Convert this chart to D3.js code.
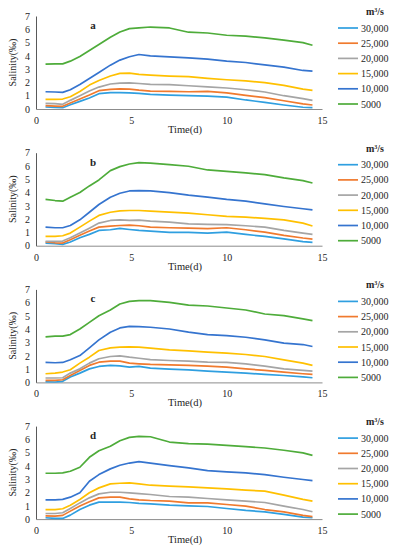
<!DOCTYPE html>
<html>
<head>
<meta charset="utf-8">
<script src="https://cdn.jsdelivr.net/npm/d3@7"></script>
<style>
  body { margin: 0; background: #fff; }
  text { font-family: "Liberation Serif", "DejaVu Serif", serif; fill: #262626; }
</style>
</head>
<body>
<div id="wrapper"></div>
<script>
// sample days shared by every series
const days = [0.5, 1, 1.4, 1.8, 2.3, 2.8, 3.3, 3.9, 4.4, 4.9, 5.4, 6, 7, 8, 9, 10, 11, 12, 13, 14, 14.5]

const flows = ["30,000", "25,000", "20,000", "15,000", "10,000", "5000"]
const colors = ["#2f9fe0", "#f07a2e", "#a5a5a5", "#ffc000", "#3574cf", "#4eac3a"]
const panelLabels = ["a", "b", "c", "d"]
const xTicks = [0, 5, 10, 15]
const yTicks = [0, 1, 2, 3, 4, 5, 6, 7]

// salinity per flow, order follows flows
const panelA = [
  [0.15, 0.12, 0.1, 0.32, 0.57, 0.83, 1.15, 1.23, 1.23, 1.22, 1.18, 1.1, 1.05, 1.0, 0.97, 0.9, 0.68, 0.5, 0.3, 0.13, 0.1],
  [0.25, 0.22, 0.2, 0.45, 0.75, 1.05, 1.38, 1.48, 1.52, 1.5, 1.42, 1.35, 1.33, 1.3, 1.32, 1.22, 1.02, 0.85, 0.62, 0.38, 0.3],
  [0.43, 0.4, 0.35, 0.65, 1.0, 1.35, 1.65, 1.88, 1.95, 1.97, 1.92, 1.85, 1.83, 1.75, 1.67, 1.58, 1.45, 1.28, 1.0, 0.78, 0.65],
  [0.73, 0.73, 0.75, 0.92, 1.32, 1.8, 2.15, 2.48, 2.68, 2.7, 2.6, 2.55, 2.48, 2.43, 2.3, 2.2, 2.12, 1.98, 1.78, 1.5, 1.4],
  [1.3, 1.28, 1.25, 1.45, 1.85, 2.3, 2.75, 3.3, 3.68, 3.93, 4.1, 4.0, 3.93, 3.85, 3.75, 3.6, 3.5, 3.32, 3.15, 2.9, 2.85],
  [3.38, 3.4, 3.4, 3.6, 3.95, 4.4, 4.85, 5.4, 5.8, 6.05, 6.1, 6.17, 6.1, 5.78, 5.72, 5.55, 5.48, 5.35, 5.18, 5.0, 4.8],
]
const panelB = [
  [0.2, 0.15, 0.1, 0.28, 0.6, 0.85, 1.15, 1.2, 1.3, 1.22, 1.15, 1.1, 1.0, 1.0, 0.95, 1.02, 0.85, 0.7, 0.52, 0.3, 0.25],
  [0.28, 0.22, 0.2, 0.45, 0.78, 1.1, 1.4, 1.48, 1.52, 1.55, 1.5, 1.4, 1.35, 1.33, 1.28, 1.35, 1.2, 1.02, 0.78, 0.58, 0.5],
  [0.33, 0.33, 0.35, 0.6, 0.95, 1.32, 1.7, 1.9, 1.95, 1.9, 1.92, 1.85, 1.78, 1.65, 1.6, 1.58, 1.5, 1.4, 1.15, 0.95, 0.85],
  [0.7, 0.7, 0.75, 0.95, 1.4, 1.85, 2.28, 2.52, 2.62, 2.65, 2.65, 2.6, 2.52, 2.45, 2.33, 2.2, 2.15, 2.05, 1.95, 1.7, 1.48],
  [1.4, 1.35, 1.35, 1.52, 1.95, 2.52, 3.1, 3.65, 3.95, 4.12, 4.15, 4.12, 4.0, 3.8, 3.65, 3.48, 3.35, 3.15, 2.95, 2.78, 2.7],
  [3.48, 3.4, 3.35, 3.65, 4.0, 4.5, 4.95, 5.65, 5.95, 6.15, 6.25, 6.22, 6.1, 5.98, 5.7, 5.6, 5.48, 5.35, 5.1, 4.9, 4.72],
]
const panelC = [
  [0.05, 0.03, 0.08, 0.4, 0.7, 1.02, 1.2, 1.28, 1.25, 1.15, 1.2, 1.08, 1.0, 0.95, 0.85, 0.78, 0.7, 0.6, 0.52, 0.42, 0.35],
  [0.15, 0.15, 0.2, 0.52, 0.9, 1.28, 1.52, 1.6, 1.6, 1.45, 1.4, 1.35, 1.32, 1.28, 1.22, 1.15, 1.02, 0.9, 0.78, 0.65, 0.6],
  [0.33, 0.33, 0.35, 0.7, 1.02, 1.45, 1.78, 1.95, 2.0, 1.9, 1.82, 1.72, 1.65, 1.6, 1.52, 1.5, 1.4, 1.22, 1.02, 0.9, 0.85],
  [0.65, 0.7, 0.78, 0.95, 1.45, 1.9, 2.4, 2.6, 2.65, 2.68, 2.65, 2.58, 2.45, 2.38, 2.28, 2.2, 2.1, 1.95, 1.7, 1.45, 1.28],
  [1.5, 1.48, 1.5, 1.7, 2.02, 2.6, 3.2, 3.78, 4.1, 4.22, 4.2, 4.15, 4.02, 3.78, 3.6, 3.52, 3.4, 3.2, 2.95, 2.85, 2.7],
  [3.42, 3.48, 3.48, 3.6, 4.02, 4.52, 5.02, 5.45, 5.9, 6.1, 6.15, 6.15, 6.02, 5.82, 5.75, 5.6, 5.45, 5.15, 5.02, 4.78, 4.65],
]
const panelD = [
  [0.1, 0.05, 0.05, 0.3, 0.72, 1.05, 1.28, 1.28, 1.28, 1.25, 1.18, 1.15, 1.05, 1.0, 0.95, 0.8, 0.65, 0.55, 0.35, 0.15, 0.1],
  [0.25, 0.22, 0.28, 0.6, 0.98, 1.3, 1.6, 1.65, 1.65, 1.52, 1.45, 1.4, 1.35, 1.22, 1.22, 1.1, 0.98, 0.72, 0.55, 0.28, 0.18],
  [0.42, 0.42, 0.48, 0.8, 1.22, 1.6, 1.9, 2.02, 2.02, 1.98, 1.92, 1.85, 1.7, 1.65, 1.55, 1.45, 1.35, 1.25, 0.98, 0.72, 0.55],
  [0.72, 0.72, 0.78, 1.05, 1.48, 1.98, 2.35, 2.65, 2.7, 2.72, 2.65, 2.55, 2.48, 2.42, 2.35, 2.28, 2.18, 2.1, 1.8, 1.48, 1.35],
  [1.45, 1.45, 1.48, 1.65, 1.98, 2.85, 3.35, 3.78, 4.05, 4.22, 4.32, 4.22, 4.02, 3.85, 3.65, 3.55, 3.48, 3.35, 3.15, 2.98, 2.9],
  [3.45, 3.45, 3.48, 3.6, 3.9, 4.65, 5.15, 5.48, 5.9, 6.15, 6.22, 6.2, 5.8, 5.68, 5.65, 5.55, 5.45, 5.35, 5.18, 4.98, 4.8],
]
const panels = [panelA, panelB, panelC, panelD]

const dimensions = {
  width: 399,
  height: 550,
  plotLeft: 36,
  plotRight: 322,
  firstTop: 16,
  plotHeight: 93,
  step: 136.7,
}

const svg = d3.select("#wrapper")
  .append("svg")
  .attr("width", dimensions.width)
  .attr("height", dimensions.height)

const xScale = d3.scaleLinear()
  .domain([0, 15])
  .range([dimensions.plotLeft, dimensions.plotRight])

panels.forEach((panel, p) => {
  const top = dimensions.firstTop + p * dimensions.step
  const bottom = top + dimensions.plotHeight

  const yScale = d3.scaleLinear().domain([0, 7]).range([bottom, top])

  const g = svg.append("g")

  // y axis
  const yAxis = g.append("g")
    .attr("transform", `translate(${dimensions.plotLeft},0)`)
    .call(d3.axisLeft(yScale).tickValues(yTicks).tickFormat(d3.format("d")).tickSize(0).tickPadding(6))
  yAxis.select(".domain").attr("stroke", "#595959")
  yAxis.selectAll("text").style("font-size", "10px").attr("fill", "#262626")

  // x axis
  const xAxis = g.append("g")
    .attr("transform", `translate(0,${bottom})`)
    .call(d3.axisBottom(xScale).tickValues(xTicks).tickFormat(d3.format("d")).tickSize(0).tickPadding(8))
  xAxis.select(".domain").attr("stroke", "#8c8c8c")
  xAxis.selectAll("text").style("font-size", "10px").attr("fill", "#262626")

  g.append("text")
    .attr("x", 185)
    .attr("y", bottom + 24)
    .attr("text-anchor", "middle")
    .style("font-size", "10.5px")
    .text("Time(d)")

  g.append("text")
    .attr("transform", `translate(16,${(top + bottom) / 2}) rotate(-90)`)
    .attr("text-anchor", "middle")
    .style("font-size", "10px")
    .text("Salinity(‰)")

  g.append("text")
    .attr("x", 93)
    .attr("y", top + 13)
    .attr("text-anchor", "middle")
    .style("font-size", "11px")
    .style("font-weight", "bold")
    .text(panelLabels[p])

  // lines
  const lineGenerator = d3.line()
    .x((d, i) => xScale(days[i]))
    .y((d) => yScale(d))

  panel.forEach((series, s) => {
    g.append("path")
      .attr("d", lineGenerator(series))
      .attr("fill", "none")
      .attr("stroke", colors[s])
      .attr("stroke-width", 1.7)
      .attr("stroke-linejoin", "round")
  })

  // legend
  const legend = g.append("g")
  legend.append("text")
    .attr("x", 375)
    .attr("y", top - 1)
    .attr("text-anchor", "middle")
    .style("font-size", "10px")
    .style("font-weight", "bold")
    .html("m<tspan dy='-3' font-size='6px'>3</tspan><tspan dy='3'>/s</tspan>")

  flows.forEach((f, s) => {
    const y = top + 12 + s * 15.2
    legend.append("line")
      .attr("x1", 338).attr("x2", 358)
      .attr("y1", y).attr("y2", y)
      .attr("stroke", colors[s])
      .attr("stroke-width", 1.7)
    legend.append("text")
      .attr("x", 361)
      .attr("y", y + 3.5)
      .style("font-size", "10px")
      .text(f)
  })
})
</script>
</body>
</html>
